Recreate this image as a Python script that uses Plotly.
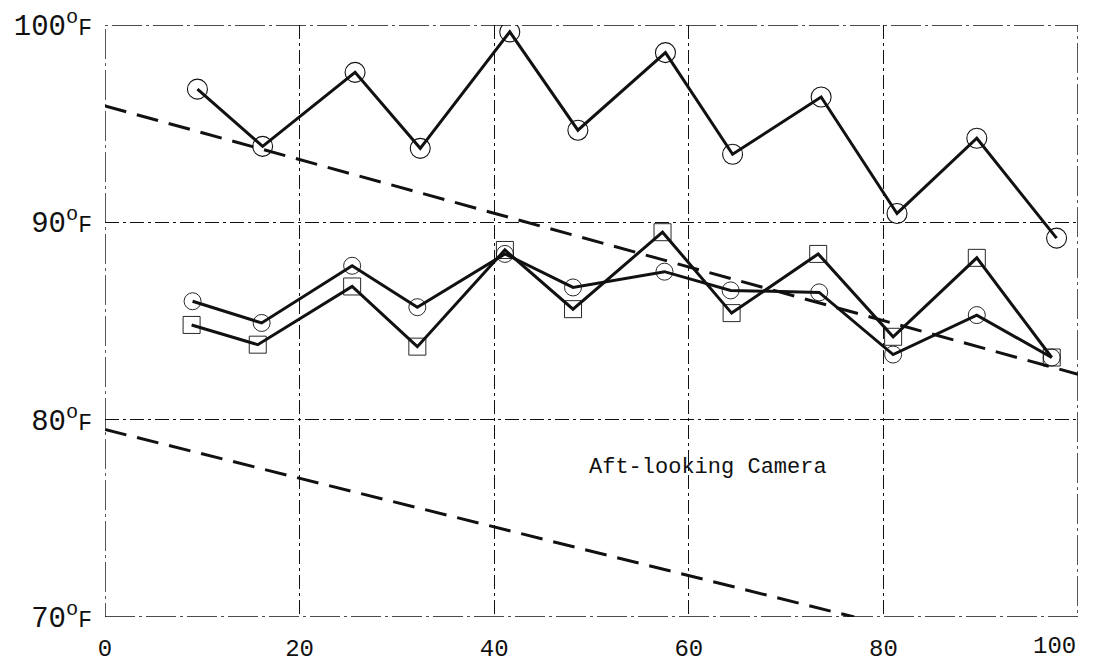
import plotly.graph_objects as go

# ---- data ----
top_x = [9.5, 16.2, 25.7, 32.4, 41.6, 48.6, 57.6, 64.5, 73.6, 81.4, 89.6, 97.8]
top_y = [96.75, 93.85, 97.6, 93.75, 99.65, 94.67, 98.6, 93.45, 96.35, 90.45, 94.26, 89.2]

mid_x = [9.0, 16.1, 25.4, 32.1, 41.1, 48.1, 57.5, 64.3, 73.4, 81.0, 89.6, 97.3]
mid_y = [86.0, 84.9, 87.8, 85.7, 88.4, 86.7, 87.5, 86.55, 86.45, 83.3, 85.3, 83.15]

sq_x = [8.9, 15.7, 25.4, 32.1, 41.1, 48.1, 57.3, 64.4, 73.3, 81.0, 89.6, 97.3]
sq_y = [84.8, 83.8, 86.75, 83.7, 88.6, 85.6, 89.5, 85.4, 88.4, 84.2, 88.2, 83.15]

trend1_x = [0, 100]
trend1_y = [95.9, 82.3]
trend2_x = [0, 77]
trend2_y = [79.5, 70.0]

x_ticks = [0, 20, 40, 60, 80, 100]
x_labels = ["0", "20", "40", "60", "80", "100"]
y_ticks = [70, 80, 90, 100]
y_labels = ["70", "80", "90", "100"]

label_text = "Aft-looking Camera"
label_pos = (62, 77.6)

FONT = "Liberation Mono, Courier New, monospace"
INK = "#111111"

fig = go.Figure()

for tx, ty in ((trend1_x, trend1_y), (trend2_x, trend2_y)):
    fig.add_trace(go.Scatter(x=tx, y=ty, mode="lines",
                             line=dict(color=INK, width=3, dash="22px,11px"),
                             showlegend=False, hoverinfo="skip"))

fig.add_trace(go.Scatter(x=top_x, y=top_y, mode="lines+markers",
                         line=dict(color=INK, width=3),
                         marker=dict(symbol="circle-open", size=20, color=INK,
                                     line=dict(width=1.1, color=INK)),
                         showlegend=False))
fig.add_trace(go.Scatter(x=mid_x, y=mid_y, mode="lines+markers",
                         line=dict(color=INK, width=3),
                         marker=dict(symbol="circle-open", size=17, color=INK,
                                     line=dict(width=0.9, color=INK)),
                         showlegend=False))
fig.add_trace(go.Scatter(x=sq_x, y=sq_y, mode="lines+markers",
                         line=dict(color=INK, width=3),
                         marker=dict(symbol="square-open", size=17, color=INK,
                                     line=dict(width=0.9, color=INK)),
                         showlegend=False))

fig.add_annotation(x=label_pos[0], y=label_pos[1], text=label_text,
                   showarrow=False, font=dict(family=FONT, size=22, color=INK))

# the last x label sits left of its tick in the reference: right-anchor it at its tick value
x_text = [t if t != x_labels[-1] else "" for t in x_labels]
fig.add_annotation(x=x_ticks[-1], xref="x", y=0, yref="paper", text=x_labels[-1],
                   showarrow=False, xanchor="right", yanchor="top", yshift=-14,
                   font=dict(family=FONT, size=24, color=INK))

# plot border as dash-dot frame
fig.add_shape(type="rect", xref="x", yref="y", x0=0, x1=100, y0=70, y1=100,
              line=dict(color=INK, width=1.4, dash="30px,4px,3px,4px"), layer="below")

y_text = [f"{v}<sup>o</sup><span style='font-size:23px'>F</span>" for v in y_labels]

fig.update_layout(
    width=1096, height=671,
    margin=dict(l=105, r=18, t=25, b=54, autoexpand=False),
    paper_bgcolor="white", plot_bgcolor="white",
    font=dict(family=FONT, color=INK),
    xaxis=dict(range=[0, 100], tickvals=x_ticks, ticktext=x_text,
               showgrid=True, gridcolor=INK, gridwidth=1,
               griddash="14px,4px,3px,4px", zeroline=False, showline=False,
               ticks="", tickfont=dict(family=FONT, size=24, color=INK),
               ticklabelstandoff=14, automargin=False,
               ticklabeloverflow="allow"),
    yaxis=dict(range=[70, 100], tickvals=y_ticks, ticktext=y_text,
               showgrid=True, gridcolor=INK, gridwidth=1,
               griddash="14px,4px,3px,4px", zeroline=False, showline=False,
               ticks="", tickfont=dict(family=FONT, size=29, color=INK),
               ticklabelstandoff=12, automargin=False,
               ticklabeloverflow="allow"),
)

# remove the browser's default page margin so the figure fills the window exactly
fig.write_html("out.html",
               config={"displayModeBar": False},
               post_script="document.body.style.margin='0';"
                           "document.body.style.overflow='hidden';")
